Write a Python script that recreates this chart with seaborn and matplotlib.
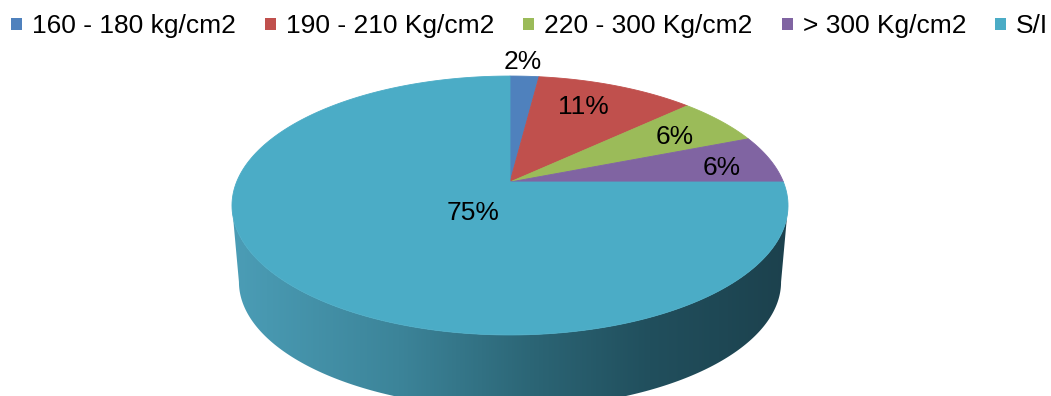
import numpy as np
import matplotlib
matplotlib.use("Agg")
import matplotlib.pyplot as plt
from matplotlib.patches import Polygon, Rectangle
from matplotlib.colors import LinearSegmentedColormap
import seaborn as sns

# Compressive strength classes and their share of the sample (%)
categories = ["160 - 180 kg/cm2", "190 - 210 Kg/cm2", "220 - 300 Kg/cm2",
              "> 300 Kg/cm2", "S/I"]
shares = [2, 11, 6, 6, 75]
value_labels = ["2%", "11%", "6%", "6%", "75%"]

sns.set_theme(style="white")
plt.rcParams["font.family"] = ["Liberation Sans", "DejaVu Sans"]

colors = sns.color_palette(["#4F81BD", "#C0504D", "#9BBB59", "#8064A2", "#4BACC6"])

W, H = 1051, 396
fig = plt.figure(figsize=(W / 100, H / 100), dpi=100)
ax = fig.add_axes([0, 0, 1, 1])
ax.set_xlim(0, W)
ax.set_ylim(H, 0)
ax.axis("off")

# Perspective disc: centre, half-axes, perspective strength, wall depth
CX, CY = 510, 182
SX, SY = 273.4, 125.2
K = 0.1815
DEPTH = 77
SHRINK = 0.975


def project(u, v, bottom=False):
    w = 1 + K * v
    if bottom:
        return CX + SX * SHRINK * u / w, CY + DEPTH - SY * SHRINK * v / w
    return CX + SX * u / w, CY - SY * v / w


def rim(a0, a1, r=1.0, bottom=False, n=200):
    a = np.radians(np.linspace(a0, a1, n))
    return project(r * np.sin(a), r * np.cos(a), bottom)


# Side wall (front half of the cylinder), shaded left to right
a_edge = np.degrees(np.arccos(-K))
tx, ty = rim(a_edge, 360 - a_edge)
bx, by = rim(360 - a_edge, a_edge, bottom=True)
wall = Polygon(np.column_stack([np.r_[tx, bx], np.r_[ty, by]]), closed=True,
               facecolor="none", edgecolor="none")
ax.add_patch(wall)
wall_cmap = LinearSegmentedColormap.from_list(
    "wall", [(0.0, "#4b9db6"), (0.3, "#3c8499"), (0.55, "#2b6474"),
             (0.75, "#214f5d"), (1.0, "#1c414d")])
grad = np.linspace(0, 1, 512)[None, :]
x0, x1 = min(tx.min(), bx.min()), max(tx.max(), bx.max())
y0, y1 = min(ty.min(), by.min()), max(ty.max(), by.max())
img = ax.imshow(grad, cmap=wall_cmap, extent=(x0, x1, y1, y0), aspect="auto",
                interpolation="bilinear", zorder=1)
img.set_clip_path(wall)
ax.set_xlim(0, W)
ax.set_ylim(H, 0)

# Top face slices, clockwise from 12 o'clock
bounds = np.r_[0, np.cumsum(shares)] / np.sum(shares) * 360
for i, c in enumerate(colors):
    sx, sy = rim(bounds[i], bounds[i + 1])
    px, py = project(0, 0)
    ax.add_patch(Polygon(np.column_stack([np.r_[px, sx], np.r_[py, sy]]),
                         closed=True, facecolor=c, edgecolor=c, lw=0.6, zorder=2))

# Percentage labels placed along each slice's mid-angle
label_r = [1.16, 0.74, 0.75, 0.80, 0.27]
label_turn = [-0.8, -3.0, 1.4, 2.6, -16.0]
for i, txt in enumerate(value_labels):
    mid = (bounds[i] + bounds[i + 1]) / 2 + label_turn[i]
    a = np.radians(mid)
    lx, ly = project(label_r[i] * np.sin(a), label_r[i] * np.cos(a))
    ax.text(lx, ly, txt, ha="center", va="center", fontsize=19,
            color="black", zorder=3)

# Legend row across the top: square key, label, then a fixed gap
renderer = fig.canvas.get_renderer()
x = 11
for name, c in zip(categories, colors):
    ax.add_patch(Rectangle((x, 18), 11, 12, facecolor=c, edgecolor="none",
                           zorder=3))
    t = ax.text(x + 21, 33, name, ha="left", va="baseline", fontsize=19,
                color="black", zorder=3)
    bb = t.get_window_extent(renderer=renderer)
    x += 21 + bb.width + 29

fig.savefig("out.png", dpi=100)
